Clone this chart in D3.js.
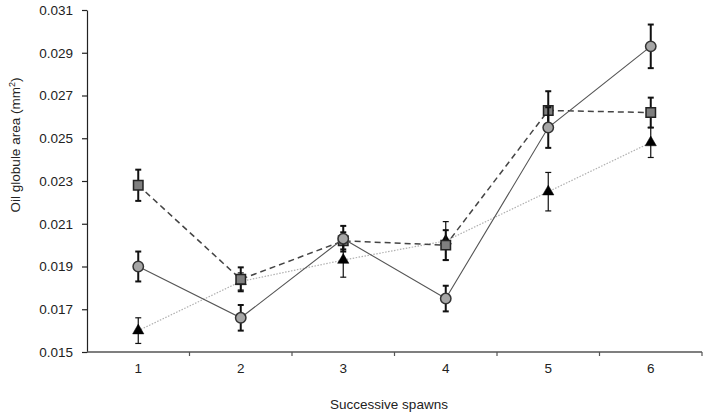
<!DOCTYPE html>
<html>
<head>
<meta charset="utf-8">
<script src="https://cdn.jsdelivr.net/npm/d3@7"></script>
<style>
  html, body { margin: 0; padding: 0; background: #fff; }
  svg { display: block; font-family: "Liberation Sans", Arial, sans-serif; }
</style>
</head>
<body>
<svg id="chart" width="706" height="418"></svg>
<script>
const categories = ["1", "2", "3", "4", "5", "6"];
const yTicks = [0.015, 0.017, 0.019, 0.021, 0.023, 0.025, 0.027, 0.029, 0.031];

const triangleValues = [0.0160, 0.0183, 0.0193, 0.0202, 0.0225, 0.0248];
const triangleErrors = [0.0006, 0.0004, 0.0008, 0.0009, 0.0009, 0.0007];

const squareValues = [0.0228, 0.0184, 0.0202, 0.0200, 0.0263, 0.0262];
const squareErrors = [0.00073, 0.00056, 0.0004, 0.0007, 0.0009, 0.0007];

const circleValues = [0.0190, 0.0166, 0.0203, 0.0175, 0.0255, 0.0293];
const circleErrors = [0.0007, 0.0006, 0.0006, 0.0006, 0.00095, 0.00102];

const FS = 13.5;
const svg = d3.select("#chart");
const x = d3.scaleBand().domain(categories).range([87, 702]).padding(0);
const y = d3.scaleLinear().domain([0.015, 0.031]).range([352, 10]);
const cx = c => x(c) + x.bandwidth() / 2;

// Y axis
const yAxis = d3.axisLeft(y).tickValues(yTicks).tickFormat(d3.format(".3f")).tickSize(5).tickSizeOuter(0);
const gy = svg.append("g").attr("transform", "translate(87,0)").call(yAxis);
gy.select(".domain").attr("stroke", "#222").attr("stroke-width", 1.2);
gy.selectAll(".tick line").attr("stroke", "#222").attr("stroke-width", 1.2);
gy.selectAll(".tick text").attr("font-size", FS).attr("fill", "#222").attr("x", -14)
  .attr("font-family", "Liberation Sans, Arial, sans-serif");

// X axis with ticks at band boundaries
const gx = svg.append("g").attr("transform", "translate(0,352)");
gx.append("line").attr("x1", 87).attr("x2", 702).attr("y1", 0).attr("y2", 0)
  .attr("stroke", "#555").attr("stroke-width", 1.5);
const bounds = categories.map(c => x(c)).concat([x(categories[categories.length - 1]) + x.bandwidth()]);
gx.selectAll(".bt").data(bounds.slice(1)).enter().append("line")
  .attr("x1", d => d).attr("x2", d => d).attr("y1", 0).attr("y2", 4)
  .attr("stroke", "#555").attr("stroke-width", 1.2);
gx.selectAll(".xl").data(categories).enter().append("text")
  .attr("x", d => cx(d)).attr("y", 21).attr("text-anchor", "middle")
  .attr("font-size", FS).attr("fill", "#222").text(d => d);

// Axis titles
svg.append("text").attr("x", 389).attr("y", 409).attr("text-anchor", "middle")
  .attr("font-size", FS).attr("fill", "#222").text("Successive spawns");
const yt = svg.append("text").attr("transform", "translate(20,145) rotate(-90)")
  .attr("text-anchor", "middle").attr("font-size", FS).attr("fill", "#222");
yt.append("tspan").text("Oil globule area (mm");
yt.append("tspan").attr("font-size", 9).attr("dy", -5).text("2");
yt.append("tspan").attr("dy", 5).text(")");

function drawSeries(values, errors, opts) {
  const data = categories.map((c, i) => ({ c, v: values[i], e: errors[i] }));
  const g = svg.append("g");
  const line = d3.line().x(d => cx(d.c)).y(d => y(d.v));
  g.append("path").datum(data).attr("d", line).attr("fill", "none")
    .attr("stroke", opts.lineColor).attr("stroke-width", opts.lineWidth)
    .attr("stroke-dasharray", opts.dash);
  const eb = g.selectAll(".eb").data(data).enter().append("g");
  eb.append("line").attr("x1", d => cx(d.c)).attr("x2", d => cx(d.c))
    .attr("y1", d => y(d.v - d.e)).attr("y2", d => y(d.v + d.e))
    .attr("stroke", "#111").attr("stroke-width", opts.errWidth);
  [1, -1].forEach(s => {
    eb.append("line").attr("x1", d => cx(d.c) - 3).attr("x2", d => cx(d.c) + 3)
      .attr("y1", d => y(d.v + s * d.e)).attr("y2", d => y(d.v + s * d.e))
      .attr("stroke", "#111").attr("stroke-width", opts.errWidth);
  });
  g.selectAll(".m").data(data).enter().append("path")
    .attr("transform", d => `translate(${cx(d.c)},${y(d.v)})`)
    .attr("d", d3.symbol().type(opts.symbol).size(opts.size))
    .attr("fill", opts.fill).attr("stroke", opts.stroke).attr("stroke-width", opts.strokeWidth);
}

drawSeries(triangleValues, triangleErrors, {
  lineColor: "#b0b0b0", lineWidth: 1.2, dash: "1.5,1.5", errWidth: 1.2,
  symbol: d3.symbolTriangle, size: 55, fill: "#000", stroke: "#000", strokeWidth: 0.5
});
drawSeries(squareValues, squareErrors, {
  lineColor: "#444", lineWidth: 1.5, dash: "6,4", errWidth: 2,
  symbol: d3.symbolSquare, size: 90, fill: "#7f7f7f", stroke: "#222", strokeWidth: 1.5
});
drawSeries(circleValues, circleErrors, {
  lineColor: "#555", lineWidth: 1.1, dash: null, errWidth: 2,
  symbol: d3.symbolCircle, size: 85, fill: "#a6a6a6", stroke: "#333", strokeWidth: 1.5
});
</script>
</body>
</html>
